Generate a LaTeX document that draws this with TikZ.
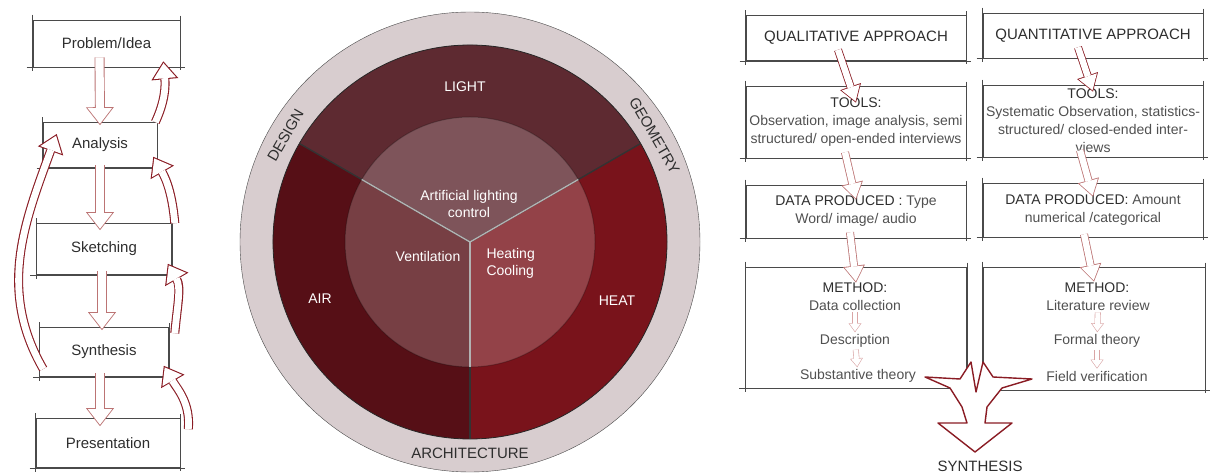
\documentclass[tikz,border=0pt]{standalone}
\usepackage{fontspec}
\setmainfont{Liberation Sans}
\usetikzlibrary{positioning,arrows.meta}
\definecolor{txt}{HTML}{2E2E2E}
\definecolor{soft}{HTML}{505050}
\definecolor{boxgray}{HTML}{4A4A4A}
\definecolor{pale}{HTML}{BC7474}
\definecolor{palest}{HTML}{D9A5A5}
\definecolor{darkred}{HTML}{8A1C24}
\definecolor{ring}{HTML}{D8CDCF}
\definecolor{lightsec}{HTML}{5E2A31}
\definecolor{airsec}{HTML}{560F16}
\definecolor{heatsec}{HTML}{79131B}

\begin{document}
\begin{tikzpicture}[
        x=1pt, y=1pt,
        font=\fontsize{14}{18}\selectfont,
        sketchline/.style = {draw=boxgray, line width=0.5pt},
        sketch/.style = {append after command={
            ([xshift=-6]\tikzlastnode.south west) edge[sketchline] ([xshift=5]\tikzlastnode.south east)
            ([yshift=5]\tikzlastnode.north west) edge[sketchline] ([yshift=-4]\tikzlastnode.south west)
            ([yshift=4]\tikzlastnode.north east) edge[sketchline] ([yshift=-3]\tikzlastnode.south east)}},
        box/.style = {rectangle, draw=boxgray, line width=0.6pt, text=soft, align=center, inner sep=2pt, sketch},
        lbox/.style = {box, text=txt, font=\fontsize{15}{18}\selectfont},
        apbox/.style = {box, text=txt, minimum width=220, minimum height=45, font=\fontsize{15}{18}\selectfont},
        item/.style = {text=soft, inner sep=2pt},
        head/.style = {text=txt, inner sep=2pt},
        lbl/.style = {text=white, align=center, font=\fontsize{14}{17}\selectfont},
        ringlbl/.style = {text=txt, font=\fontsize{15}{18}\selectfont},
        down/.style = {draw=pale, line width=10pt, -{Triangle[length=18pt, width=28pt, line width=0pt]},
            postaction={draw=white, line width=8.2pt, shorten >=1.47pt, -{Triangle[length=15.6pt, width=24.3pt, line width=0pt]}}},
        downr/.style = {draw=pale, line width=8pt, -{Triangle[length=17pt, width=22pt, line width=0pt]},
            postaction={draw=white, line width=6.4pt, shorten >=1.47pt, -{Triangle[length=14.7pt, width=19.1pt, line width=0pt]}}},
        back/.style = {draw=darkred, line width=9pt, -{Triangle[length=18pt, width=27pt, line width=0pt]},
            postaction={draw=white, line width=6.8pt, shorten >=1.83pt, -{Triangle[length=15.1pt, width=22.6pt, line width=0pt]}}},
        tiny/.style = {draw=palest, line width=6pt, -{Triangle[length=9pt, width=13pt, line width=0pt]},
            postaction={draw=white, line width=4.8pt, shorten >=1.03pt, -{Triangle[length=7.4pt, width=10.7pt, line width=0pt]}}}
    ]
    \useasboundingbox (0,0) rectangle (1215,474);

    % design process
    \node [lbox, minimum width=147, minimum height=47] (prob) at (106.5,430.5) {Problem/Idea};
    \node [lbox, minimum width=114, minimum height=45] (ana) at (100,329) {Analysis};
    \node [lbox, minimum width=135, minimum height=51] (sketching) at (104,225) {Sketching};
    \node [lbox, minimum width=129, minimum height=49] (synth) at (104,122) {Synthesis};
    \node [lbox, minimum width=144, minimum height=49] (pres) at (108,31) {Presentation};

    \draw [down] ([xshift=-7,yshift=10]prob.south) -- ([yshift=-3]ana.north);
    \draw [down] ([yshift=3]ana.south) -- ([xshift=-4,yshift=-7]sketching.north);
    \draw [down] ([xshift=-2,yshift=4]sketching.south) -- ([xshift=-2,yshift=-3]synth.north);
    \draw [down] ([xshift=-4,yshift=4]synth.south) -- ([xshift=-8,yshift=-8]pres.north);

    \draw [back] ([xshift=-2]ana.north east) to[out=65, in=-85] ([xshift=-17,yshift=6]prob.south east);
    \draw [back] ([xshift=3]sketching.north east) to[out=95, in=-60] ([xshift=-4,yshift=11]ana.south east);
    \draw [back] ([xshift=6,yshift=-6]synth.north east) to[out=85, in=-60] ([xshift=-4,yshift=11]sketching.south east);
    \draw [back] ([xshift=8,yshift=-11]pres.north east) to[out=85, in=-60] ([xshift=-5,yshift=11]synth.south east);
    \draw [back] ([xshift=4,yshift=-17]synth.west) to[out=120, in=-110] ([xshift=14,yshift=11]ana.west);

    % wheel
    \coordinate (c) at (470,232);
    \fill [ring] (c) circle (230);
    \draw [boxgray, line width=0.4pt] (c) circle (230);
    \fill [lightsec] (c) -- +(30:197) arc[start angle=30, end angle=150, radius=197] -- cycle;
    \fill [heatsec] (c) -- +(-90:197) arc[start angle=-90, end angle=30, radius=197] -- cycle;
    \fill [airsec] (c) -- +(150:197) arc[start angle=150, end angle=270, radius=197] -- cycle;
    \draw [black!85, line width=0.8pt] (c) circle (197);
    \fill [white, fill opacity=0.2] (c) circle (125);
    \draw [black, opacity=0.25, line width=1pt] (c) circle (125);
    \foreach \a in {30,150,270}
        \draw [black!80, line width=1.4pt] (c) -- +(\a:197);
    \foreach \a in {30,150,270}
        \draw [gray!60, line width=1.4pt] (c) -- +(\a:125);

    \node [lbl] (light) at (465,387) {LIGHT};
    \node [lbl] (air) at (320,175) {AIR};
    \node [lbl] (heat) at (617,173) {HEAT};
    \node [lbl] (artif) at (469,270) {Artificial lighting\\control};
    \node [lbl] (vent) at (428,218) {Ventilation};
    \node [lbl, anchor=west, align=left] (heatcool) at (483,211) {Heating\\Cooling};
    \node [ringlbl, rotate=60] (design) at (285.5,338.5) {DESIGN};
    \node [ringlbl, rotate=-60] (geometry) at (654.5,338.5) {GEOMETRY};
    \node [ringlbl] (archi) at (470,21) {ARCHITECTURE};

    % qualitative
    \node [apbox] (qlap) at (856,436) {QUALITATIVE APPROACH};
    \node [box, minimum width=220, minimum height=72] (qltools) at (856,352)
        {\textcolor{txt}{TOOLS:}\\Observation, image analysis, semi\\structured/ open-ended interviews};
    \node [box, minimum width=220, minimum height=53] (qldata) at (856,262.5)
        {\textcolor{txt}{DATA PRODUCED :} Type\\Word/ image/ audio};
    \node [box, minimum width=221, minimum height=121] (qlmeth) at (856,146.5) {};
    \node [head] (qlmhead) at (855,186) {METHOD:};
    \node [item] (qlcoll) at (855,169) {Data collection};
    \node [item] (qldesc) at (855,133) {Description};
    \node [item] (qltheo) at (858,98) {Substantive theory};

    \draw [downr, draw=darkred] ([xshift=-18,yshift=11]qlap.south) -- ([yshift=-17]qltools.north);
    \draw [downr] ([xshift=-11,yshift=6]qltools.south) -- ([yshift=-15]qldata.north);
    \draw [downr] ([xshift=-6,yshift=6]qldata.south) -- ([yshift=-16]qlmeth.north);
    \draw [tiny] (qlcoll) -- (qldesc);
    \draw [tiny] (qldesc) -- (qltheo);

    % quantitative
    \node [apbox] (qnap) at (1093,438.5) {QUANTITATIVE APPROACH};
    \node [box, minimum width=220, minimum height=72] (qntools) at (1093,353)
        {\textcolor{txt}{TOOLS:}\\Systematic Observation, statistics-\\structured/ closed-ended inter-\\views};
    \node [box, minimum width=220, minimum height=54] (qndata) at (1093,264)
        {\textcolor{txt}{DATA PRODUCED:} Amount\\numerical /categorical};
    \node [box, minimum width=222, minimum height=123] (qnmeth) at (1094,145.5) {};
    \node [head] (qnmhead) at (1097,186) {METHOD:};
    \node [item] (qnlit) at (1098,169) {Literature review};
    \node [item] (qnformal) at (1097,133) {Formal theory};
    \node [item] (qnfield) at (1097,98) {Field verification};

    \draw [downr, draw=darkred] ([xshift=-15,yshift=11]qnap.south) -- ([yshift=-7]qntools.north);
    \draw [downr] ([xshift=-13,yshift=7]qntools.south) -- ([yshift=-14]qndata.north);
    \draw [downr] ([xshift=-9,yshift=3]qndata.south) -- ([yshift=-15]qnmeth.north);
    \draw [tiny] (qnlit) -- (qnformal);
    \draw [tiny] (qnformal) -- (qnfield);

    % merge into synthesis
    \draw [darkred, line width=1.4pt, fill=white, line join=round]
        (925,97) -- (960,95) -- (971,112) -- (976,82) -- (983,112) -- (993,97) -- (1032,95)
        -- (1002,86) -- (987,67) -- (985,51) -- (1012,51) -- (975,22) -- (938,51)
        -- (967,51) -- (962,67) -- (950,86) -- cycle;
    \node [ringlbl] (synlbl) at (980,8) {SYNTHESIS};
\end{tikzpicture}
\end{document}
